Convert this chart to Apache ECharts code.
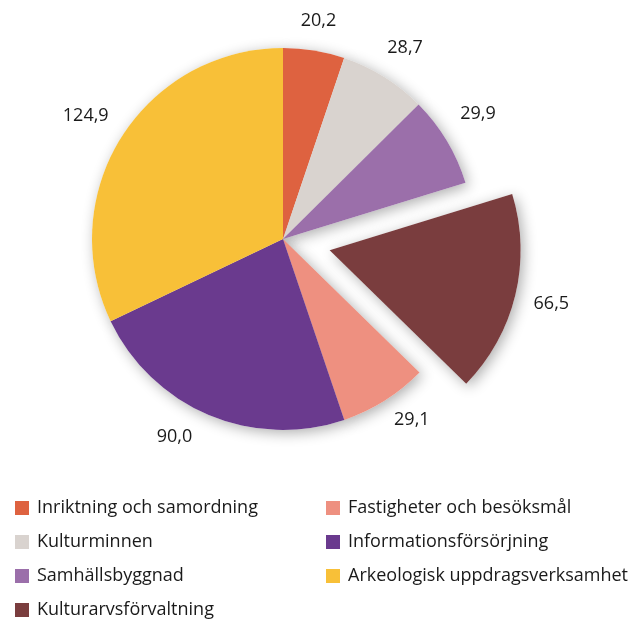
<!DOCTYPE html>
<html>
<head>
<meta charset="utf-8">
<script src="https://cdn.jsdelivr.net/npm/echarts@6/dist/echarts.min.js"></script>
<style>
  html, body { margin: 0; padding: 0; background: #ffffff; }
  #chart { width: 638px; height: 620px; }
</style>
</head>
<body>
<div id="chart"></div>
<script>
// Slices, clockwise from twelve o'clock
const categories = [
  'Inriktning och samordning',
  'Kulturminnen',
  'Samhällsbyggnad',
  'Kulturarvsförvaltning',
  'Fastigheter och besöksmål',
  'Informationsförsörjning',
  'Arkeologisk uppdragsverksamhet'
];
const values = [20.2, 28.7, 29.9, 66.5, 29.1, 90.0, 124.9];
const colors = ['#DE6240', '#D9D3CF', '#9B6FAA', '#7A3D3E', '#EE9080', '#6A3A8E', '#F8C038'];
const explodedName = 'Kulturarvsförvaltning';

// Legend columns
const legendLeft = ['Inriktning och samordning', 'Kulturminnen', 'Samhällsbyggnad', 'Kulturarvsförvaltning'];
const legendRight = ['Fastigheter och besöksmål', 'Informationsförsörjning', 'Arkeologisk uppdragsverksamhet'];

const FONT = 'Open Sans';
const center = [283, 239];
const radius = 191;
const labelGap = 34;
// small per-slice nudges of the value labels (px)
const labelNudge = [[-1, 4], [3, 0], [2, -9], [3, 1], [9, -10], [-21, -9], [-7, -3]];

const fmt = v => v.toFixed(1).replace('.', ',');

const sliceData = categories.map((name, i) => ({
  name,
  value: values[i],
  selected: name === explodedName,
  itemStyle: { color: colors[i] }
}));

const legendBase = {
  orient: 'vertical',
  icon: 'rect',
  itemWidth: 14,
  itemHeight: 14,
  itemGap: 14,
  padding: 0,
  height: 200,
  selectedMode: false,
  textStyle: { fontFamily: FONT, fontSize: 18, color: '#1a1a1a', lineHeight: 20, padding: [0, 0, 0, 3] }
};

const chart = echarts.init(document.getElementById('chart'), null, { renderer: 'canvas' });
chart.setOption({
  animation: false,
  backgroundColor: '#ffffff',
  legend: [
    Object.assign({}, legendBase, { left: 15, top: 498, data: legendLeft }),
    Object.assign({}, legendBase, { left: 326, top: 498, data: legendRight })
  ],
  series: [
    {
      // coloured slices with value labels
      type: 'pie',
      z: 3,
      center, radius,
      startAngle: 90,
      clockwise: true,
      selectedMode: 'single',
      selectedOffset: 48,
      avoidLabelOverlap: false,
      data: sliceData,
      label: {
        show: true,
        position: 'outside',
        formatter: p => fmt(p.value),
        fontFamily: FONT,
        fontSize: 18,
        color: '#1a1a1a'
      },
      labelLine: { show: false, length: labelGap, length2: 0 },
      labelLayout: p => {
        const half = p.labelRect.width / 2 + 5;
        const n = labelNudge[p.dataIndex] || [0, 0];
        return { dx: (p.align === 'right' ? half : -half) + n[0], dy: n[1] };
      },
      select: { itemStyle: { borderWidth: 0 } },
      emphasis: { disabled: true }
    },
    {
      // soft drop shadow drawn beneath the slices
      type: 'pie',
      z: 1,
      silent: true,
      center, radius,
      startAngle: 90,
      clockwise: true,
      selectedMode: 'single',
      selectedOffset: 48,
      data: categories.map((name, i) => ({ name, value: values[i], selected: name === explodedName })),
      label: { show: false },
      labelLine: { show: false },
      itemStyle: {
        color: '#ffffff',
        shadowBlur: 14,
        shadowColor: 'rgba(0,0,0,0.32)',
        shadowOffsetX: 3,
        shadowOffsetY: 3
      },
      select: { itemStyle: { color: '#ffffff', borderWidth: 0 } },
      emphasis: { disabled: true }
    }
  ]
});
</script>
</body>
</html>
